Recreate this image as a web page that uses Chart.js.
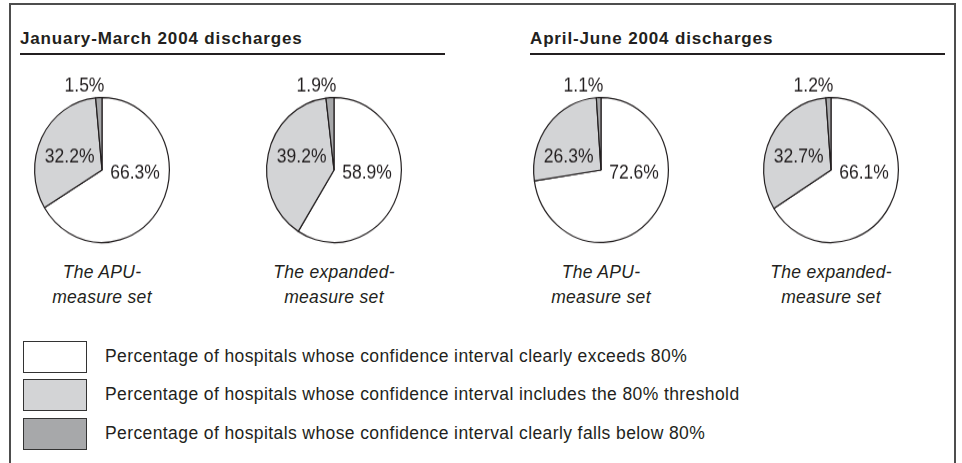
<!DOCTYPE html>
<html>
<head>
<meta charset="utf-8">
<script src="https://cdn.jsdelivr.net/npm/chart.js@4.4.1/dist/chart.umd.min.js"></script>
<style>
    body { margin: 0; background: #fff; font-family: "Liberation Sans", Arial, sans-serif; color: #231f20; }
    #page { position: relative; width: 962px; height: 463px; overflow: hidden; }
    #frame { position: absolute; left: 9px; top: 3px; width: 943px; height: 480px; border: 2px solid #4d4d4d; }
    .header { position: absolute; top: 29px; font-weight: bold; font-size: 17px; letter-spacing: 0.85px; line-height: 20px; padding-bottom: 4px; border-bottom: 2.5px solid #231f20; }
    .pie { position: absolute; top: 72px; width: 150px; height: 180px; transform: scaleY(1.075); transform-origin: 75px 98px; }
    .caption { position: absolute; top: 260px; width: 200px; text-align: center; font-style: italic; font-size: 17.5px; letter-spacing: 0.3px; line-height: 25px; }
    .lg-box { position: absolute; left: 23px; width: 62px; height: 30px; border: 1.5px solid #333; }
    .lg-text { position: absolute; left: 105px; font-size: 17.5px; letter-spacing: 0.4px; line-height: 20px; }
</style>
</head>
<body>
<div id="page">
    <div id="frame"></div>
    <div class="header" style="left:20px; width:425px;">January-March 2004 discharges</div>
    <div class="header" style="left:530px; width:415px;">April-June 2004 discharges</div>

    <div class="pie" style="left:27px;"><canvas id="pie0"></canvas></div>
    <div class="pie" style="left:259px;"><canvas id="pie1"></canvas></div>
    <div class="pie" style="left:526px;"><canvas id="pie2"></canvas></div>
    <div class="pie" style="left:756px;"><canvas id="pie3"></canvas></div>

    <div id="captions"></div>
    <div id="legend"></div>
</div>

<script>
// categories (legend order = slice order, clockwise from 12 o'clock)
const categories = [
    'Percentage of hospitals whose confidence interval clearly exceeds 80%',
    'Percentage of hospitals whose confidence interval includes the 80% threshold',
    'Percentage of hospitals whose confidence interval clearly falls below 80%'
];
const sliceColors = ['#ffffff', '#d3d4d6', '#a7a8aa'];

// one pie per measure set and period
const pieCaptions = [
    ['The APU-', 'measure set'],
    ['The expanded-', 'measure set'],
    ['The APU-', 'measure set'],
    ['The expanded-', 'measure set']
];
const janMarApu = [66.3, 32.2, 1.5];
const janMarExpanded = [58.9, 39.2, 1.9];
const aprJunApu = [72.6, 26.3, 1.1];
const aprJunExpanded = [66.1, 32.7, 1.2];
const pieData = [janMarApu, janMarExpanded, aprJunApu, aprJunExpanded];

const pieCenters = [102, 334, 601, 831];

// draws the percentage next to each slice
const sliceLabels = {
    id: 'sliceLabels',
    afterDatasetsDraw(chart) {
        const ctx = chart.ctx;
        const meta = chart.getDatasetMeta(0);
        const values = chart.data.datasets[0].data;
        ctx.save();
        ctx.font = '17.5px "Liberation Sans", Arial, sans-serif';
        ctx.fillStyle = '#231f20';
        ctx.textAlign = 'center';
        ctx.textBaseline = 'middle';
        meta.data.forEach((arc, i) => {
            const { x, y, outerRadius: r } = arc.getProps(['x', 'y', 'outerRadius'], true);
            let tx, ty;
            if (i === 0) {
                tx = x + 0.49 * r; ty = y + 0.04 * r;
            } else if (i === 1) {
                tx = x - 0.48 * r; ty = y - 0.18 * r;
            } else {
                tx = x - 0.26 * r; ty = y - r - 10;
            }
            ctx.fillText(values[i].toFixed(1) + '%', tx, ty);
        });
        ctx.restore();
    }
};

function load_pies() {
    pieData.forEach((values, i) => {
        const ctx = document.getElementById('pie' + i).getContext('2d');
        new Chart(ctx, {
            type: 'pie',
            data: {
                labels: categories,
                datasets: [{
                    data: values,
                    backgroundColor: sliceColors,
                    borderColor: '#231f20',
                    borderWidth: 1.2
                }]
            },
            options: {
                responsive: true,
                maintainAspectRatio: false,
                animation: false,
                layout: { padding: { top: 30, bottom: 14, left: 7, right: 7 } },
                plugins: {
                    legend: { display: false },
                    tooltip: { enabled: false }
                }
            },
            plugins: [sliceLabels]
        });
    });
}

function load_captions() {
    const box = document.getElementById('captions');
    pieCaptions.forEach((lines, i) => {
        const div = document.createElement('div');
        div.className = 'caption';
        div.style.left = (pieCenters[i] - 100) + 'px';
        div.innerHTML = lines.join('<br>');
        box.appendChild(div);
    });
}

function load_legend() {
    const box = document.getElementById('legend');
    const rowTops = [341, 379, 418];
    categories.forEach((label, i) => {
        const sw = document.createElement('div');
        sw.className = 'lg-box';
        sw.style.top = rowTops[i] + 'px';
        sw.style.background = sliceColors[i];
        box.appendChild(sw);
        const txt = document.createElement('div');
        txt.className = 'lg-text';
        txt.style.top = (rowTops[i] + 5) + 'px';
        txt.textContent = label;
        box.appendChild(txt);
    });
}

load_pies();
load_captions();
load_legend();
</script>
</body>
</html>
